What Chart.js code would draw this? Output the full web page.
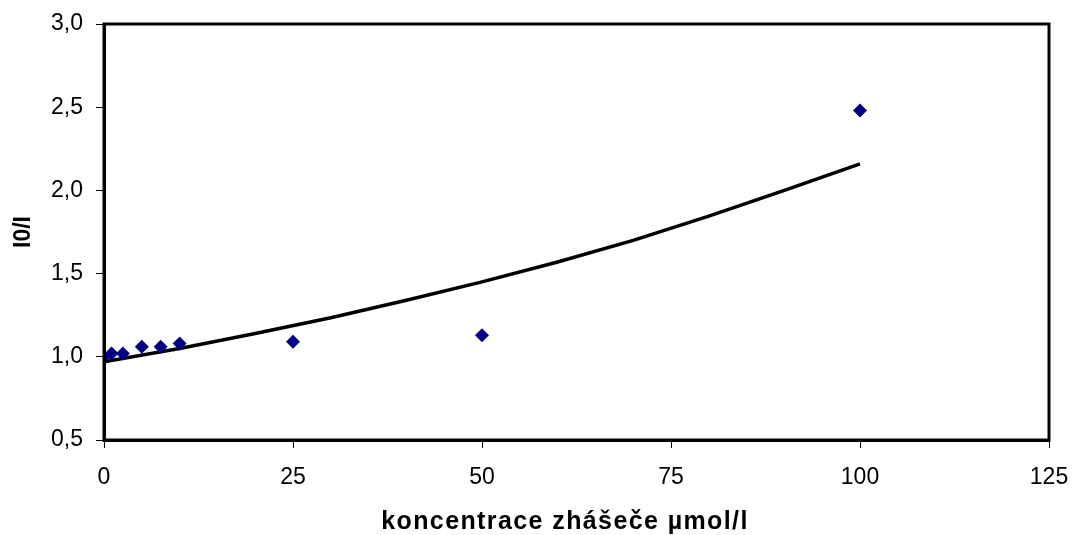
<!DOCTYPE html>
<html>
<head>
<meta charset="utf-8">
<script src="https://cdn.jsdelivr.net/npm/chart.js@4/dist/chart.umd.min.js"></script>
<style>
html,body{margin:0;padding:0;background:#fff;}
#c{display:block;}
</style>
</head>
<body>
<canvas id="c" width="1074" height="535"></canvas>
<script>
// measured data
const concentration = [0, 1, 2.5, 5, 7.5, 10, 25, 50, 100];
const ratio = [1.00, 1.02, 1.02, 1.06, 1.06, 1.08, 1.09, 1.13, 2.48];
// trend line
const trendX = [0, 10, 20, 30, 40, 50, 60, 70, 80, 90, 100];
const trendY = [0.97, 1.05, 1.14, 1.235, 1.34, 1.45, 1.57, 1.70, 1.845, 2.0, 2.16];
const xTicks = [0, 25, 50, 75, 100, 125];
const yTicks = [0.5, 1.0, 1.5, 2.0, 2.5, 3.0];
const xTitle = 'koncentrace zhášeče µmol/l';
const yTitle = 'I0/I';

const FONT = '"Liberation Sans", Arial, sans-serif';

const framePlugin = {
  id: 'frame',
  afterDatasetsDraw(chart) {
    const a = chart.chartArea, ctx = chart.ctx;
    ctx.save();
    ctx.strokeStyle = '#000';
    ctx.lineWidth = 3;
    ctx.strokeRect(a.left, a.top, a.right - a.left, a.bottom - a.top);
    ctx.restore();
  },
  afterDraw(chart) {
    // x-axis title with the wider letter spacing of the original
    const ctx = chart.ctx;
    ctx.save();
    ctx.font = 'bold 25px ' + FONT;
    ctx.fillStyle = '#000';
    ctx.textBaseline = 'middle';
    ctx.textAlign = 'left';
    try { ctx.letterSpacing = '1.4px'; } catch (e) {}
    const w = ctx.measureText(xTitle).width;
    ctx.fillText(xTitle, 565 - w / 2, 522);
    ctx.restore();
  }
};

new Chart(document.getElementById('c'), {
  type: 'scatter',
  data: {
    datasets: [
      {
        label: 'I0/I',
        data: concentration.map((x, i) => ({x, y: ratio[i]})),
        pointStyle: 'rectRot',
        pointRadius: 7,
        pointBorderWidth: 0,
        backgroundColor: '#000080',
        borderColor: '#000080'
      },
      {
        type: 'line',
        label: 'trend',
        data: trendX.map((x, i) => ({x, y: trendY[i]})),
        borderColor: '#000',
        borderWidth: 3.5,
        pointRadius: 0,
        showLine: true,
        tension: 0,
        fill: false
      }
    ]
  },
  options: {
    responsive: false,
    animation: false,
    devicePixelRatio: 1,
    layout: {padding: {left: 0, right: 25, top: 24, bottom: 0}},
    plugins: {legend: {display: false}, tooltip: {enabled: false}},
    scales: {
      x: {
        type: 'linear',
        min: 0, max: 125,
        afterBuildTicks(s) { s.ticks = xTicks.map(v => ({value: v})); },
        afterFit(s) { s.height = 95; s.paddingRight = 0; s.paddingLeft = 0; },
        grid: {drawOnChartArea: false, drawTicks: true, tickLength: 8, color: '#000', lineWidth: 1},
        border: {display: true, color: '#000', width: 3},
        ticks: {color: '#000', font: {family: FONT, size: 23}, padding: 16, maxRotation: 0},
        title: {display: false, text: xTitle}
      },
      y: {
        type: 'linear',
        min: 0.5, max: 3.0,
        afterBuildTicks(s) { s.ticks = yTicks.map(v => ({value: v})); },
        afterFit(s) { s.width = 104; s.paddingTop = 0; s.paddingBottom = 0; },
        grid: {drawOnChartArea: false, drawTicks: true, tickLength: 8, color: '#000', lineWidth: 1},
        border: {display: true, color: '#000', width: 3},
        ticks: {color: '#000', font: {family: FONT, size: 23}, padding: 13,
          callback: v => v.toFixed(1).replace('.', ',')},
        title: {display: true, text: yTitle, color: '#000', font: {family: FONT, size: 23, weight: 'bold'}, padding: {top: 10, bottom: 0}}
      }
    }
  },
  plugins: [framePlugin]
});
</script>
</body>
</html>
